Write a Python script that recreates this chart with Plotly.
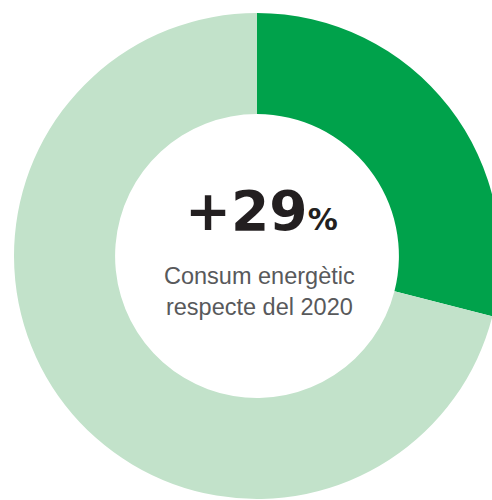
import plotly.graph_objects as go

# share of the ring: increase vs. the rest
labels = ["Increment", "Resta"]
values = [29, 71]
colors = ["#00A24B", "#C2E2CA"]

headline = "+29"
headline_unit = "%"
caption = ["Consum energètic", "respecte del 2020"]

W, H = 502, 502
cx, cy, r = 257, 256, 243

fig = go.Figure(go.Pie(
    labels=labels,
    values=values,
    hole=0.584,
    sort=False,
    direction="clockwise",
    rotation=0,
    marker=dict(colors=colors, line=dict(width=0)),
    textinfo="none",
    hoverinfo="skip",
    domain=dict(x=[(cx - r) / W, (cx + r) / W],
                y=[(H - cy - r) / H, (H - cy + r) / H]),
))

fig.add_annotation(
    x=(cx + 4) / W, y=(H - 211) / H, xref="paper", yref="paper",
    text=f"<b>{headline}</b><b><span style='font-size:30px'>{headline_unit}</span></b>",
    showarrow=False, font=dict(family="DejaVu Sans", size=55, color="#231F20"),
)
fig.add_annotation(
    x=(cx + 2) / W, y=(H - 292) / H, xref="paper", yref="paper",
    text="<br>".join(caption),
    showarrow=False, align="center",
    font=dict(family="Liberation Sans, Arial", size=23.5, color="#58595B"),
)

fig.update_layout(
    width=W, height=H,
    margin=dict(l=0, r=0, t=0, b=0),
    showlegend=False,
    paper_bgcolor="white",
    plot_bgcolor="white",
)

fig.write_html("out.html", config={"displayModeBar": False},
               post_script="document.body.style.margin='0';document.body.style.overflow='hidden';")
